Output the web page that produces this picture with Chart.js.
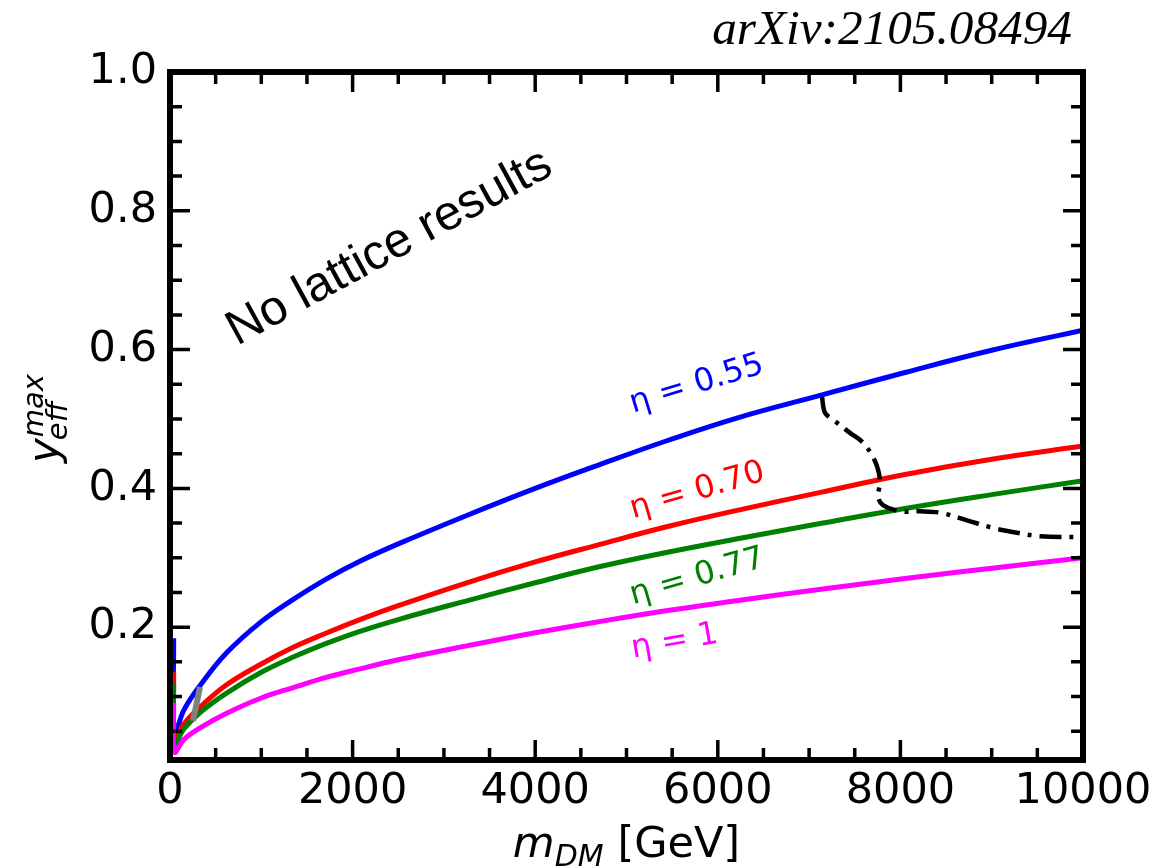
<!DOCTYPE html>
<html>
<head>
<meta charset="utf-8">
<script src="https://cdn.jsdelivr.net/npm/chart.js@4.4.1/dist/chart.umd.min.js"></script>
<style>
  html, body { margin: 0; padding: 0; background: #ffffff; }
  #wrap { width: 1161px; height: 867px; position: relative; }
</style>
</head>
<body>
<div id="wrap"><canvas id="c" width="1161" height="867"></canvas></div>
<script>
// Dark-matter mass grid [GeV]
const massGeV = [40, 50, 150, 330, 620, 1000, 1350, 1720, 2080, 2500, 3250, 4000, 4700, 5450, 6200, 7150, 8050, 9000, 10000];

// Maximal effective Yukawa coupling for each eta
const yEta055 = [0.184, 0.046, 0.080, 0.116, 0.163, 0.208, 0.240, 0.270, 0.295, 0.320, 0.361, 0.400, 0.434, 0.469, 0.501, 0.535, 0.567, 0.599, 0.628];
const yEta070 = [0.135, 0.035, 0.060, 0.085, 0.117, 0.147, 0.171, 0.192, 0.211, 0.231, 0.264, 0.294, 0.319, 0.345, 0.368, 0.395, 0.420, 0.442, 0.461];
const yEta077 = [0.120, 0.032, 0.053, 0.077, 0.105, 0.135, 0.157, 0.177, 0.194, 0.211, 0.238, 0.264, 0.287, 0.308, 0.327, 0.350, 0.371, 0.391, 0.411];
const yEta100 = [0.091, 0.020, 0.038, 0.055, 0.076, 0.098, 0.113, 0.128, 0.140, 0.153, 0.173, 0.192, 0.208, 0.224, 0.238, 0.255, 0.270, 0.285, 0.300];

// Boundary of the region without lattice results
const boundaryMass = [7141, 7174, 7262, 7448, 7590, 7700, 7755, 7777, 7755, 7809, 7996, 8215, 8434, 8729, 9014, 9277, 9529, 10000];
const boundaryY    = [0.532, 0.509, 0.499, 0.480, 0.466, 0.445, 0.427, 0.408, 0.388, 0.376, 0.367, 0.367, 0.365, 0.354, 0.343, 0.336, 0.331, 0.330];

// Short grey segment at low mass
const greyMass = [252, 329];
const greyY = [0.065, 0.114];

// Axis ticks
const xTickValues = [0, 2000, 4000, 6000, 8000, 10000];
const yTickValues = [0.2, 0.4, 0.6, 0.8, 1.0];
const xMinorStep = 500;
const yMinorStep = 0.05;

const seriesNames = ['η = 0.55', 'η = 0.70', 'η = 0.77', 'η = 1'];
const seriesColors = ['#0000ff', '#ff0000', '#008000', '#ff00ff'];

const toPoints = (xs, ys) => xs.map((x, i) => ({ x: x, y: ys[i] }));

const curveStyle = (color, order) => ({
  borderColor: color, borderWidth: 5, pointRadius: 0,
  tension: 0.4, fill: false, order: order
});

const datasets = [
  Object.assign({ label: seriesNames[0], data: toPoints(massGeV, yEta055) }, curveStyle(seriesColors[0], 6)),
  Object.assign({ label: seriesNames[1], data: toPoints(massGeV, yEta070) }, curveStyle(seriesColors[1], 5)),
  Object.assign({ label: seriesNames[2], data: toPoints(massGeV, yEta077) }, curveStyle(seriesColors[2], 4)),
  Object.assign({ label: seriesNames[3], data: toPoints(massGeV, yEta100) }, curveStyle(seriesColors[3], 3)),
  { label: 'grey', data: toPoints(greyMass, greyY), borderColor: '#808080', borderWidth: 6,
    pointRadius: 0, tension: 0, order: 2 },
  { label: 'boundary', data: toPoints(boundaryMass, boundaryY), borderColor: '#000000', borderWidth: 4.5,
    borderDash: [22, 8, 4, 8], pointRadius: 0, tension: 0.35, order: 1 }
];

const FAMILY = '"DejaVu Sans", sans-serif';

// Frame, inward ticks and annotations
const decorations = {
  id: 'decorations',
  afterDraw(chart) {
    const ctx = chart.ctx;
    const a = chart.chartArea;
    const xs = chart.scales.x, ys = chart.scales.y;
    ctx.save();

    // inward ticks on all four sides
    ctx.strokeStyle = '#000';
    ctx.lineWidth = 3.5;
    const tickX = (v, len) => {
      const p = xs.getPixelForValue(v);
      ctx.beginPath();
      ctx.moveTo(p, a.bottom); ctx.lineTo(p, a.bottom - len);
      ctx.moveTo(p, a.top); ctx.lineTo(p, a.top + len);
      ctx.stroke();
    };
    const tickY = (v, len) => {
      const p = ys.getPixelForValue(v);
      ctx.beginPath();
      ctx.moveTo(a.left, p); ctx.lineTo(a.left + len, p);
      ctx.moveTo(a.right, p); ctx.lineTo(a.right - len, p);
      ctx.stroke();
    };
    for (let v = xs.min; v <= xs.max + 1e-9; v += xMinorStep) {
      const major = xTickValues.some(t => Math.abs(t - v) < 1e-6);
      tickX(v, major ? 20 : 12);
    }
    for (let k = 1; k * yMinorStep <= ys.max + 1e-9; k++) {
      const v = k * yMinorStep;
      if (v < ys.min) continue;
      const major = yTickValues.some(t => Math.abs(t - v) < 1e-6);
      tickY(v, major ? 20 : 12);
    }

    // frame
    ctx.lineWidth = 6;
    ctx.strokeRect(a.left, a.top, a.right - a.left, a.bottom - a.top);

    // x-axis title: m_DM [GeV]
    ctx.fillStyle = '#000';
    ctx.textBaseline = 'alphabetic';
    ctx.textAlign = 'left';
    const fM = 'italic 43px ' + FAMILY, fSub = 'italic 30px ' + FAMILY, fR = '43px ' + FAMILY;
    ctx.font = fM; const wM = ctx.measureText('m').width;
    ctx.font = fSub; const wDM = ctx.measureText('DM').width;
    ctx.font = fR; const wG = ctx.measureText(' [GeV]').width;
    let x0 = (a.left + a.right) / 2 - (wM + wDM + wG) / 2;
    const base = 857;
    ctx.font = fM; ctx.fillText('m', x0, base); x0 += wM;
    ctx.font = fSub; ctx.fillText('DM', x0, base + 9); x0 += wDM;
    ctx.font = fR; ctx.fillText(' [GeV]', x0, base);

    // y-axis title: y_eff^max
    ctx.save();
    ctx.translate(58, 419);
    ctx.rotate(-Math.PI / 2);
    const fY = 'italic 42px ' + FAMILY, fS = 'italic 29px ' + FAMILY;
    ctx.font = fY; const wy = ctx.measureText('y').width;
    ctx.font = fS; const wmax = ctx.measureText('max').width;
    let s = -(wy + wmax) / 2;
    ctx.font = fY; ctx.fillText('y', s, 0); s += wy;
    ctx.font = fS; ctx.fillText('max', s + 1, -15); ctx.fillText('eff', s - 2, 9);
    ctx.restore();

    // curve labels
    const labelSpec = [
      { x: 5070, y: 0.509, rot: -17 },
      { x: 5070, y: 0.357, rot: -16 },
      { x: 5070, y: 0.233, rot: -16 },
      { x: 5070, y: 0.156, rot: -10 }
    ];
    ctx.font = '32px ' + FAMILY;
    labelSpec.forEach((L, i) => {
      ctx.save();
      ctx.translate(xs.getPixelForValue(L.x), ys.getPixelForValue(L.y));
      ctx.rotate(L.rot * Math.PI / 180);
      ctx.fillStyle = seriesColors[i];
      ctx.fillText(seriesNames[i], 0, 0);
      ctx.restore();
    });

    // region annotation
    ctx.save();
    ctx.fillStyle = '#000';
    const note = 'No lattice results';
    ctx.font = '46px "Liberation Sans", Arial, sans-serif';
    const wn = ctx.measureText(note).width;
    const fsN = 46 * 362 / wn;
    ctx.font = fsN.toFixed(2) + 'px "Liberation Sans", Arial, sans-serif';
    ctx.translate(237, 346);
    ctx.rotate(-28.5 * Math.PI / 180);
    ctx.fillText(note, 0, 0);
    ctx.restore();

    // preprint reference
    ctx.save();
    const ref = 'arXiv:2105.08494';
    ctx.font = 'italic 36px "Liberation Serif", serif';
    const wr = ctx.measureText(ref).width;
    const fsR = 36 * 360 / wr;
    ctx.font = 'italic ' + fsR.toFixed(2) + 'px "Liberation Serif", serif';
    ctx.textAlign = 'right';
    ctx.fillText(ref, 1072, 44);
    ctx.restore();

    ctx.restore();
  }
};

new Chart(document.getElementById('c'), {
  type: 'line',
  data: { datasets: datasets },
  options: {
    responsive: false,
    animation: false,
    devicePixelRatio: 1,
    layout: { padding: { top: 72, right: 78, bottom: 0, left: 0 } },
    plugins: { legend: { display: false }, tooltip: { enabled: false } },
    elements: { point: { radius: 0 } },
    scales: {
      x: {
        type: 'linear', min: 0, max: 10000,
        grid: { display: false, drawTicks: false },
        border: { display: false },
        afterBuildTicks: s => { s.ticks = xTickValues.map(v => ({ value: v })); },
        afterFit: s => { s.height = 107; },
        ticks: { color: '#000', padding: 6, maxRotation: 0, autoSkip: false,
                 font: { family: 'DejaVu Sans', size: 43 },
                 callback: v => String(v) }
      },
      y: {
        type: 'linear', min: 0.0086, max: 1.0,
        grid: { display: false, drawTicks: false },
        border: { display: false },
        afterBuildTicks: s => { s.ticks = yTickValues.map(v => ({ value: v })); },
        afterFit: s => { s.width = 170; },
        ticks: { color: '#000', padding: 13, autoSkip: false,
                 font: { family: 'DejaVu Sans', size: 43 },
                 callback: v => Number(v).toFixed(1) }
      }
    }
  },
  plugins: [decorations]
});
</script>
</body>
</html>
